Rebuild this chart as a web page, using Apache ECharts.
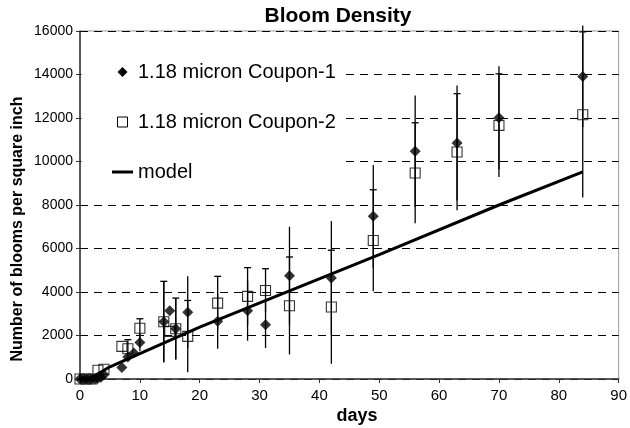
<!DOCTYPE html>
<html>
<head>
<meta charset="utf-8">
<script src="https://cdn.jsdelivr.net/npm/echarts@6/dist/echarts.min.js"></script>
<style>
  html, body { margin: 0; padding: 0; background: #fff; }
  #chart { width: 630px; height: 428px; }
</style>
</head>
<body>
<div id="chart"></div>
<script>
// Coupon-1 (filled diamonds): day, blooms per square inch, error half-width
const coupon1Days = [0, 0.5, 1, 1.5, 2, 2.5, 3, 3.5, 4, 7, 8, 9, 10, 14, 15, 16, 18, 23, 28, 31, 35, 42, 49, 56, 63, 70, 84];
const coupon1Vals = [0, 0, 0, 0, 0, 0, 30, 80, 200, 530, 1010, 1195, 1680, 2630, 3140, 2310, 3070, 2650, 3140, 2500, 4750, 4640, 7480, 10470, 10850, 12010, 13910];
const coupon1Err  = [0, 0, 0, 0, 0, 0, 0, 0, 0, 0, 0, 0, 400, 1860, 0, 1410, 1650, 1260, 1380, 1080, 2250, 2620, 2360, 2560, 2640, 2370, 2340];

// Coupon-2 (open squares)
const coupon2Days = [0, 1, 2, 3, 4, 7, 8, 10, 14, 15, 16, 18, 23, 28, 31, 35, 42, 49, 56, 63, 70, 84];
const coupon2Vals = [0, 0, 0, 400, 450, 1500, 1390, 2330, 2630, 2190, 2310, 1960, 3490, 3800, 4070, 3370, 3310, 6370, 9470, 10440, 11660, 12150];
const coupon2Err  = [0, 0, 0, 0, 0, 0, 420, 440, 1860, 0, 1410, 1650, 1230, 1320, 1000, 2240, 2610, 2330, 2310, 2680, 2370, 3810];

// Model curve
const modelDays = [1.5, 5, 20, 50, 70, 84];
const modelVals = [0, 560, 2390, 5720, 8000, 9520];

const xTicks = { min: 0, max: 90, step: 10 };
const yTicks = { min: 0, max: 16000, step: 2000 };

const FONT = 'Liberation Sans, Arial, sans-serif';
const NAME1 = '1.18 micron Coupon-1';
const NAME2 = '1.18 micron Coupon-2';
const NAME3 = 'model';

const zip = (xs, ys) => xs.map((x, i) => [x, ys[i]]);
const errRows = (xs, ys, es) => xs.map((x, i) => [x, ys[i] - es[i], ys[i] + es[i], es[i]]).filter(r => r[3] > 0);

function errorBars(withCap) {
  return function (params, api) {
    const x = api.value(0);
    const lo = api.coord([x, api.value(1)]);
    const hi = api.coord([x, api.value(2)]);
    const children = [{
      type: 'line',
      shape: { x1: lo[0], y1: lo[1], x2: hi[0], y2: hi[1] },
      style: { stroke: '#000', lineWidth: 1.3 }
    }];
    if (withCap) {
      children.push({
        type: 'line',
        shape: { x1: hi[0] - 3.5, y1: hi[1], x2: hi[0] + 3.5, y2: hi[1] },
        style: { stroke: '#000', lineWidth: 1.3 }
      });
    }
    return { type: 'group', children: children };
  };
}

// Legend block: white panel with marker + label per series
const legendText = (label, y) => ({
  type: 'text', x: 138, y: y, z: 101,
  style: { text: label, align: 'left', verticalAlign: 'middle', fontSize: 20, fontFamily: FONT, fill: '#000' }
});
const legendGraphics = [
  { type: 'rect', z: 100, shape: { x: 81.5, y: 48, width: 264, height: 146 }, style: { fill: '#fff' } },
  { type: 'polygon', z: 101, shape: { points: [[122.5, 67], [127.5, 72], [122.5, 77], [117.5, 72]] }, style: { fill: '#000' } },
  legendText(NAME1, 72),
  { type: 'rect', z: 101, shape: { x: 117.5, y: 117, width: 10, height: 10 }, style: { fill: '#fff', stroke: '#000', lineWidth: 1 } },
  legendText(NAME2, 122),
  { type: 'line', z: 101, shape: { x1: 112, y1: 172, x2: 133, y2: 172 }, style: { stroke: '#000', lineWidth: 3 } },
  legendText(NAME3, 172)
];

const chart = echarts.init(document.getElementById('chart'), null, { renderer: 'canvas' });

chart.setOption({
  animation: false,
  backgroundColor: '#fff',
  textStyle: { fontFamily: FONT },
  grid: { left: 80, right: 4, top: 31, bottom: 49, show: true, borderColor: '#999', borderWidth: 1, backgroundColor: 'transparent' },
  xAxis: {
    type: 'value', min: xTicks.min, max: xTicks.max, interval: xTicks.step,
    axisLine: { show: true, onZero: false, lineStyle: { color: '#333', width: 1.5 } },
    axisTick: { show: true, inside: false, length: 4, lineStyle: { color: '#333' } },
    axisLabel: { fontSize: 15, color: '#000', margin: 9, fontFamily: FONT },
    splitLine: { show: false }
  },
  yAxis: {
    type: 'value', min: yTicks.min, max: yTicks.max, interval: yTicks.step,
    axisLine: { show: true, lineStyle: { color: '#333', width: 1.5 } },
    axisTick: { show: true, inside: false, length: 4, lineStyle: { color: '#333' } },
    axisLabel: { fontSize: 14, color: '#000', margin: 7, fontFamily: FONT, formatter: v => String(v) },
    splitLine: { show: true, lineStyle: { color: '#000', width: 1, type: [8, 6] } }
  },
  graphic: [
    { type: 'text', x: 338, y: 16, style: { text: 'Bloom Density', align: 'center', verticalAlign: 'middle', fontSize: 21, fontWeight: 'bold', fontFamily: FONT, fill: '#000' } },
    { type: 'text', x: 18, y: 229, rotation: Math.PI / 2, style: { text: 'Number of blooms per square inch', align: 'center', verticalAlign: 'middle', fontSize: 16, fontWeight: 'bold', fontFamily: FONT, fill: '#000' } },
    { type: 'text', x: 357, y: 416, style: { text: 'days', align: 'center', verticalAlign: 'middle', fontSize: 18, fontWeight: 'bold', fontFamily: FONT, fill: '#000' } }
  ].concat(legendGraphics),
  series: [
    {
      name: 'err2', type: 'custom', renderItem: errorBars(true), clip: false, z: 2,
      data: errRows(coupon2Days, coupon2Vals, coupon2Err), silent: true
    },
    {
      name: 'err1', type: 'custom', renderItem: errorBars(false), clip: false, z: 2,
      data: errRows(coupon1Days, coupon1Vals, coupon1Err), silent: true
    },
    {
      name: NAME3, type: 'line', data: zip(modelDays, modelVals), z: 3,
      symbol: 'none', showSymbol: false,
      lineStyle: { color: '#000', width: 3 }, itemStyle: { color: '#000' }
    },
    {
      name: NAME2, type: 'scatter', data: zip(coupon2Days, coupon2Vals), z: 4,
      symbol: 'rect', symbolSize: 10,
      itemStyle: { color: 'rgba(0,0,0,0)', borderColor: '#000', borderWidth: 1.1 }
    },
    {
      name: NAME1, type: 'scatter', data: zip(coupon1Days, coupon1Vals), z: 5,
      symbol: 'diamond', symbolSize: [11, 11],
      itemStyle: { color: '#000' }
    }
  ]
});
</script>
</body>
</html>
